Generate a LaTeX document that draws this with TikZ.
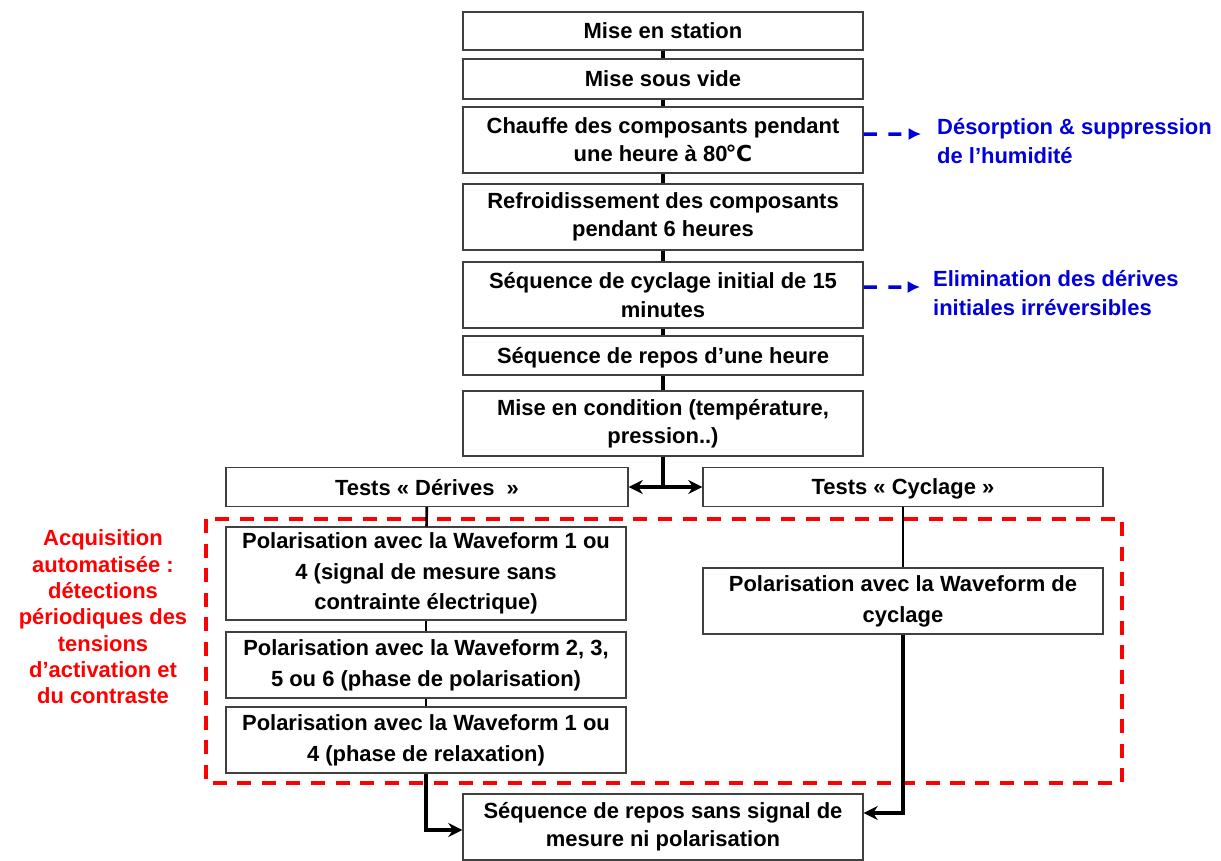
\documentclass[tikz,border=0pt]{standalone}
\usepackage{fontspec}
\setmainfont{Liberation Sans}
\newfontfamily\degfont{DejaVu Sans}
\usetikzlibrary{arrows.meta}

\definecolor{noteblue}{RGB}{0,0,220}

\begin{document}
\begin{tikzpicture}[x=0.02cm,y=-0.02cm,>={Stealth[length=8pt,width=8pt]},
  box/.style={draw=black!75,line width=0.8pt,fill=white,minimum width=8cm,inner sep=0pt,align=center,font=\bfseries\fontsize{12.5}{16}\selectfont},
  single/.style={text depth=0pt},
  tallbox/.style={box,font=\bfseries\fontsize{12.5}{17.5}\selectfont},
  hgt/.style={minimum height=#1*0.02cm},
  link/.style={line width=2.1pt},
  thinlink/.style={line width=1.5pt},
  note/.style={noteblue,line width=2pt,dash pattern=on 7.5pt off 6.5pt,-{Latex[length=7pt,width=7pt]}},
  remark/.style={font=\bfseries\fontsize{12.5}{16}\selectfont,align=left}]
\fill[white] (0,0) rectangle (1221,860);
\useasboundingbox (0,0) rectangle (1221,860);

% zone d'acquisition
\draw[red,line width=2pt,dash pattern=on 8pt off 6pt] (206,519) rectangle (1122,783);
\node[remark,align=center,text=red,font=\bfseries\fontsize{12.5}{15}\selectfont] (acq) at (103,617)
  {Acquisition\\automatisée :\\détections\\périodiques des\\tensions\\d’activation et\\du contraste};

% colonne centrale
\node[box,single,hgt=38] (b1) at (663,31) {Mise en station};
\node[box,single,hgt=40] (b2) at (663,79) {Mise sous vide};
\node[box,hgt=66] (b3) at (663,140) {Chauffe des composants pendant\\une heure à 80{\degfont\bfseries\kern-0.08em ℃}};
\node[box,hgt=66] (b4) at (663,217) {Refroidissement des composants\\pendant 6 heures};
\node[box,hgt=66] (b5) at (663,295) {Séquence de cyclage initial de 15\\minutes};
\node[box,single,hgt=39] (b6) at (663,355.5) {Séquence de repos d’une heure};
\node[box,hgt=65] (b7) at (663,423.5) {Mise en condition (température,\\pression..)};

% tests
\node[box,single,hgt=39,minimum width=402*0.02cm] (td) at (427,487) {Tests «~Dérives~~»};
\node[box,single,hgt=39] (tc) at (903,487) {Tests «~Cyclage~»};
\node[tallbox,hgt=93] (p1) at (426,573.5) {Polarisation avec la Waveform 1 ou\\4 (signal de mesure sans\\contrainte électrique)};
\node[tallbox,hgt=66] (p2) at (426,665) {Polarisation avec la Waveform 2, 3,\\5 ou 6 (phase de polarisation)};
\node[tallbox,hgt=66] (p3) at (426,740) {Polarisation avec la Waveform 1 ou\\4 (phase de relaxation)};
\node[tallbox,hgt=66] (pc) at (903,601) {Polarisation avec la Waveform de\\cyclage};
\node[box,hgt=66] (fin) at (663,827) {Séquence de repos sans signal de\\mesure ni polarisation};

% remarques
\node[remark,anchor=west,text=noteblue] (n1) at (931,141) {Désorption \& suppression\\de l’humidité};
\node[remark,anchor=west,text=noteblue] (n2) at (927,293) {Elimination des dérives\\initiales irréversibles};

% liaisons
\foreach \a/\b in {b1/b2,b2/b3,b3/b4,b4/b5,b5/b6,b6/b7}
  \draw[link] (\a) -- (\b);
\draw[link] (b7.south) -- (b7.south |- td.east);
\draw[link,<->] (td) -- (tc);
\foreach \a/\b in {td/p1,p1/p2,p2/p3,tc/pc}
  \draw[thinlink] (\a) -- (\b);
\draw[link,->] (p3.south) |- ([yshift=-0.06cm]fin.west);
\draw[link,->] (pc.south) |- ([yshift=0.28cm]fin.east);
\draw[note] ([yshift=0.12cm]b3.east) -- ([xshift=-0.2cm,yshift=0.14cm]n1.west);
\draw[note] ([yshift=0.16cm]b5.east) -- ([xshift=-0.14cm,yshift=0.12cm]n2.west);
\end{tikzpicture}
\end{document}
